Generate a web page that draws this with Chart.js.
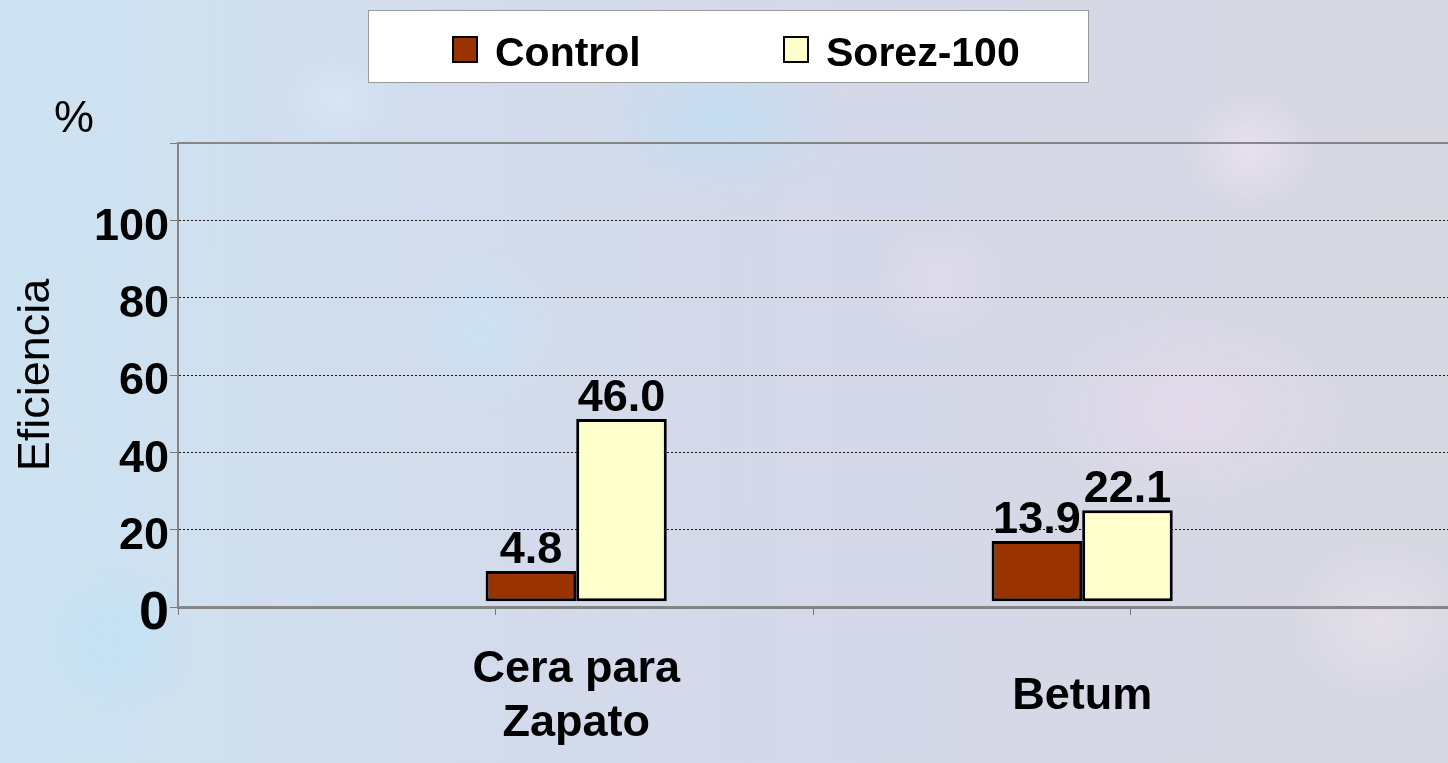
<!DOCTYPE html>
<html>
<head>
<meta charset="utf-8">
<script src="https://cdn.jsdelivr.net/npm/chart.js@4.4.1/dist/chart.umd.min.js"></script>
<style>
  html, body { margin: 0; padding: 0; }
  body {
    width: 1448px;
    height: 763px;
    overflow: hidden;
    background:
      radial-gradient(ellipse 190px 120px at 720px 120px, rgba(190, 222, 245, 0.75), rgba(190, 222, 245, 0) 70%),
      radial-gradient(ellipse 110px 120px at 480px 330px, rgba(200, 228, 246, 0.7), rgba(200, 228, 246, 0) 70%),
      radial-gradient(ellipse 220px 140px at 1190px 410px, rgba(232, 218, 236, 0.7), rgba(232, 218, 236, 0) 70%),
      radial-gradient(ellipse 90px 80px at 1250px 150px, rgba(236, 226, 240, 0.8), rgba(236, 226, 240, 0) 70%),
      radial-gradient(ellipse 90px 80px at 940px 280px, rgba(228, 220, 238, 0.7), rgba(228, 220, 238, 0) 70%),
      radial-gradient(ellipse 120px 120px at 110px 640px, rgba(190, 226, 246, 0.8), rgba(190, 226, 246, 0) 70%),
      radial-gradient(ellipse 80px 70px at 340px 100px, rgba(220, 232, 248, 0.7), rgba(220, 232, 248, 0) 70%),
      radial-gradient(ellipse 130px 110px at 1380px 620px, rgba(232, 226, 236, 0.7), rgba(232, 226, 236, 0) 70%),
      linear-gradient(90deg, #cde3f1 0%, #d2dcec 30%, #d5d8e8 60%, #d8d8e2 100%);
  }
  canvas { display: block; }
</style>
</head>
<body>
<canvas id="chart" width="1448" height="763"></canvas>
<script>
// chart data
const categories = [['Cera para', 'Zapato'], 'Betum'];
const seriesNames = ['Control', 'Sorez-100'];
const controlValues = [9.3, 17.1];
const sorezValues = [48.6, 25.0];
const controlLabels = ['4.8', '13.9'];
const sorezLabels = ['46.0', '22.1'];
const yTicks = [0, 20, 40, 60, 80, 100, 120];
const yTickLabels = ['0', '20', '40', '60', '80', '100', ''];

const FONT = '"Liberation Sans", Arial, sans-serif';

// legend box, % sign and value labels drawn on top of the chart
const overlay = {
    id: 'overlay',
    afterDatasetsDraw(chart) {
        const ctx = chart.ctx;
        ctx.save();
        ctx.font = 'bold 45px ' + FONT;
        ctx.fillStyle = '#000';
        ctx.textAlign = 'center';
        ctx.textBaseline = 'alphabetic';
        [controlLabels, sorezLabels].forEach((labels, d) => {
            chart.getDatasetMeta(d).data.forEach((bar, i) => {
                ctx.fillText(labels[i], bar.x, bar.y - 8);
            });
        });
        ctx.restore();
    },
    afterDraw(chart) {
        const ctx = chart.ctx;
        ctx.save();

        ctx.fillStyle = '#ffffff';
        ctx.fillRect(368, 10, 720, 72);
        ctx.strokeStyle = '#9a9a9a';
        ctx.lineWidth = 1;
        ctx.strokeRect(368.5, 10.5, 720, 72);

        const markerX = [453, 784];
        ctx.font = 'bold 41px ' + FONT;
        ctx.textAlign = 'left';
        ctx.textBaseline = 'alphabetic';
        chart.data.datasets.forEach((ds, i) => {
            ctx.fillStyle = ds.backgroundColor;
            ctx.fillRect(markerX[i], 37, 24, 25);
            ctx.strokeStyle = '#000';
            ctx.lineWidth = 2;
            ctx.strokeRect(markerX[i], 37, 24, 25);
            ctx.fillStyle = '#000';
            ctx.fillText(ds.label, markerX[i] + 42, 66);
        });

        ctx.font = '45px ' + FONT;
        ctx.fillText('%', 54, 132);
        ctx.restore();
    }
};

const ctx = document.getElementById('chart').getContext('2d');

new Chart(ctx, {
    type: 'bar',
    data: {
        datasets: [{
            label: seriesNames[0],
            data: controlValues.map((v, i) => ({ x: i, y: v })),
            backgroundColor: '#993300',
            borderColor: '#000000',
            borderWidth: 3,
            borderSkipped: false,
            base: 1.5,
            categoryPercentage: 0.358,
            barPercentage: 1
        }, {
            label: seriesNames[1],
            data: sorezValues.map((v, i) => ({ x: i, y: v })),
            backgroundColor: '#ffffcc',
            borderColor: '#000000',
            borderWidth: 3,
            borderSkipped: false,
            base: 1.5,
            categoryPercentage: 0.358,
            barPercentage: 1
        }]
    },
    options: {
        responsive: false,
        animation: false,
        devicePixelRatio: 1,
        layout: { padding: { top: 143, left: 0, right: 0, bottom: 0 } },
        plugins: {
            legend: { display: false },
            title: { display: false },
            tooltip: { enabled: false }
        },
        scales: {
            x: {
                type: 'linear',
                position: 'bottom',
                weight: 1,
                offset: false,
                min: -0.787,
                max: 1.723,
                grid: { display: false, offset: false },
                border: { display: false },
                afterBuildTicks: (scale) => {
                    scale.ticks = categories.map((c, i) => ({ value: i }));
                },
                ticks: {
                    autoSkip: false,
                    maxRotation: 0,
                    crossAlign: 'center',
                    padding: 47,
                    color: '#000',
                    font: { family: FONT, size: 45, weight: 'bold', lineHeight: 1.2 },
                    callback: (v) => categories[v]
                },
                afterFit: (scale) => {
                    scale.height = 148;
                    scale.paddingLeft = 0;
                    scale.paddingRight = 0;
                }
            },
            xTicks: {
                type: 'linear',
                position: 'bottom',
                weight: 0,
                offset: false,
                min: 0,
                max: 4,
                ticks: { display: false, stepSize: 1 },
                grid: { offset: false, drawOnChartArea: false, tickLength: 8, tickColor: '#7a7a7a', tickWidth: 1 },
                border: { color: '#858585', width: 3 },
                afterFit: (scale) => { scale.height = 8; }
            },
            frameTop: {
                type: 'linear',
                position: 'top',
                offset: false,
                min: 0,
                max: 1,
                ticks: { display: false },
                grid: { display: false, offset: false },
                border: { color: '#858585', width: 2 },
                afterFit: (scale) => { scale.height = 0; }
            },
            y: {
                min: 0,
                max: 120,
                afterBuildTicks: (scale) => {
                    scale.ticks = yTicks.map(v => ({ value: v }));
                },
                ticks: {
                    padding: 1,
                    labelOffset: 7,
                    color: '#000',
                    font: (c) => ({
                        family: FONT,
                        weight: 'bold',
                        size: (c.tick && c.tick.value === 0) ? 54 : 45
                    }),
                    callback: (v, i) => yTickLabels[i]
                },
                grid: {
                    color: (c) => (c.tick && c.tick.value > 0 && c.tick.value < 120) ? '#1a1a1a' : 'rgba(0,0,0,0)',
                    lineWidth: 1,
                    tickLength: 8,
                    tickColor: '#7a7a7a'
                },
                border: { color: '#858585', width: 2, dash: [2, 2] },
                title: {
                    display: true,
                    text: 'Eficiencia',
                    color: '#000',
                    font: { family: FONT, size: 45 },
                    padding: { top: 10, bottom: 0 }
                },
                afterFit: (scale) => {
                    scale.width = 178;
                    scale.paddingTop = 0;
                    scale.paddingBottom = 0;
                }
            }
        }
    },
    plugins: [overlay]
});
</script>
</body>
</html>
